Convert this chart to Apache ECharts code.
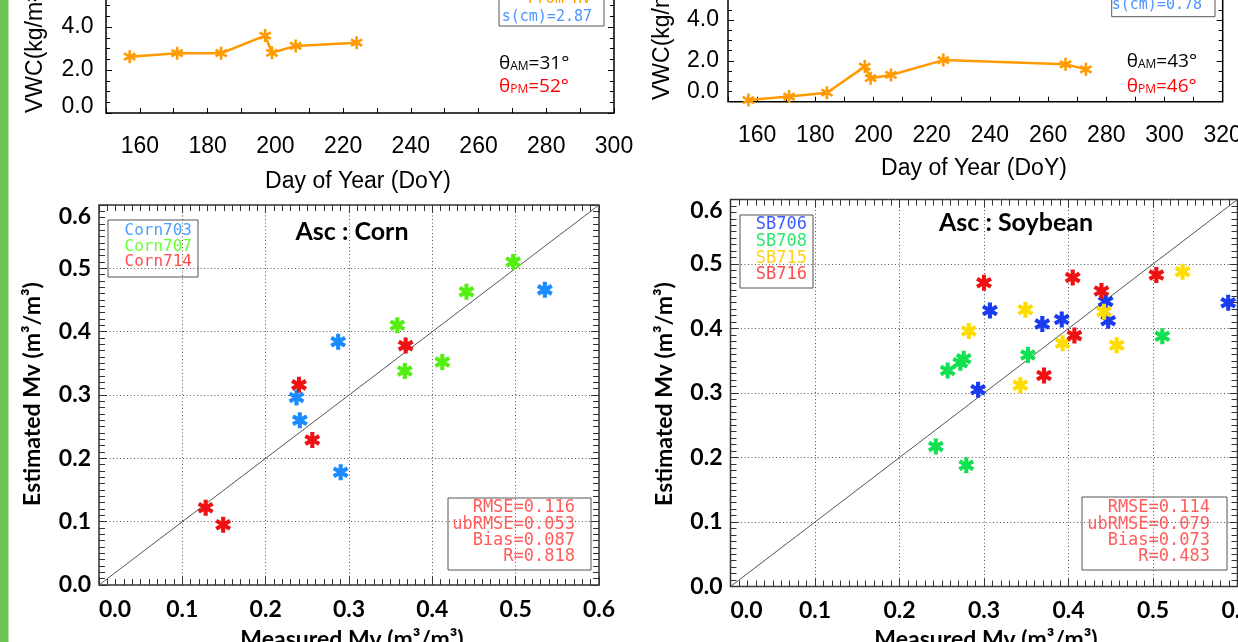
<!DOCTYPE html>
<html><head><meta charset="utf-8">
<script src="https://cdn.jsdelivr.net/npm/echarts@6/dist/echarts.min.js"></script>
<style>html,body{margin:0;padding:0;background:#fff}#c{width:1238px;height:642px}</style>
</head><body><div id="c"></div>
<script>
// ---------------- data ----------------
const cornDoY = [157, 171, 184, 197, 199, 206, 224];
const cornVWC = [2.62, 2.78, 2.78, 3.60, 2.80, 3.12, 3.27];
const soyDoY  = [157, 171, 184, 197, 199, 206, 224, 266, 273];
const soyVWC  = [0.08, 0.25, 0.44, 1.72, 1.15, 1.31, 2.04, 1.83, 1.59];
const cornDoYRange = [150, 300];
const soyDoYRange  = [150, 320];
const vwcRange = [0, 8];
const mvRange = [0, 0.6];

const corn703Meas = [0.535, 0.287, 0.237, 0.241, 0.290];
const corn703Est  = [0.466, 0.384, 0.296, 0.260, 0.178];
const corn707Meas = [0.497, 0.441, 0.358, 0.367, 0.412];
const corn707Est  = [0.510, 0.463, 0.410, 0.338, 0.352];
const corn714Meas = [0.368, 0.240, 0.256, 0.128, 0.149];
const corn714Est  = [0.378, 0.316, 0.229, 0.122, 0.095];

const sb706Meas = [0.307, 0.293, 0.369, 0.392, 0.444, 0.447, 0.589];
const sb706Est  = [0.428, 0.305, 0.407, 0.414, 0.442, 0.412, 0.440];
const sb708Meas = [0.257, 0.272, 0.276, 0.352, 0.511, 0.243, 0.279];
const sb708Est  = [0.335, 0.347, 0.353, 0.359, 0.388, 0.217, 0.188];
const sb715Meas = [0.282, 0.349, 0.343, 0.393, 0.442, 0.457, 0.535];
const sb715Est  = [0.396, 0.429, 0.312, 0.377, 0.426, 0.374, 0.488];
const sb716Meas = [0.300, 0.405, 0.439, 0.407, 0.371, 0.504];
const sb716Est  = [0.471, 0.479, 0.458, 0.389, 0.327, 0.483];

const cornStats = ['RMSE=0.116', 'ubRMSE=0.053', 'Bias=0.087', 'R=0.818'];
const soyStats  = ['RMSE=0.114', 'ubRMSE=0.079', 'Bias=0.073', 'R=0.483'];
// ---------------------------------------------------------------

function zip(a, b) { return a.map((v, i) => [v, b[i]]); }
function asteriskPath(L, h) {
  let d = '';
  [90, 30, -30].forEach(a => {
    const r = a * Math.PI / 180, dx = Math.cos(r), dy = Math.sin(r), nx = -dy, ny = dx;
    const p = [[-L*dx - h*nx, -L*dy - h*ny], [L*dx - h*nx, L*dy - h*ny], [L*dx + h*nx, L*dy + h*ny], [-L*dx + h*nx, -L*dy + h*ny]];
    d += 'M' + p.map(q => q[0].toFixed(3) + ',' + q[1].toFixed(3)).join('L') + 'Z';
  });
  return 'path://' + d;
}
const STAR = asteriskPath(7, 1.8);
const STAR_T = asteriskPath(7, 1.4);
const SANS = 'Liberation Sans', BOLD = 'Lato', MONO = 'DejaVu Sans Mono';

const chart = echarts.init(document.getElementById('c'), null, {renderer: 'canvas', width: 1238, height: 642});

const gridBase = {show: true, backgroundColor: 'transparent', borderWidth: 1.5, containLabel: false, outerBoundsMode: 'none'};
const grid = [
  Object.assign({left: 106, top: -59, width: 508, height: 172, borderColor: '#000'}, gridBase),
  Object.assign({left: 728, top: -61.5, width: 494.7, height: 163.2, borderColor: '#000'}, gridBase),
  Object.assign({left: 99, top: 205, width: 500, height: 380, borderColor: '#333'}, gridBase),
  Object.assign({left: 730.5, top: 199.5, width: 507, height: 387, borderColor: '#333'}, gridBase)
];
const noLine = {show: false, onZero: false};

function topX(gi, range, margin) {
  return {gridIndex: gi, type: 'value', min: range[0], max: range[1], interval: 10, position: 'bottom',
    axisLine: noLine, splitLine: {show: false},
    axisTick: {show: true, inside: true, length: 5, lineStyle: {color: '#000', width: 1}},
    axisLabel: {margin: margin, fontSize: 23, fontFamily: SANS, color: '#000',
      formatter: v => (Math.round(v) % 20 === 0 ? String(Math.round(v)) : '')}};
}
function topY(gi, range, margin, zeroPad) {
  const tick = {show: true, inside: true, length: 6, lineStyle: {color: '#000', width: 1}};
  const minor = {show: true, splitNumber: 4, length: 4, lineStyle: {color: '#000', width: 1}};
  return [
    {gridIndex: gi, type: 'value', min: range[0], max: range[1], interval: 2, position: 'left',
      axisLine: noLine, splitLine: {show: false}, axisTick: tick, minorTick: minor,
      axisLabel: {margin: margin, fontSize: 23, fontFamily: SANS, color: '#000',
        formatter: v => (Math.abs(v) < 1e-9 ? '{z|0.0}' : v.toFixed(1)),
        rich: {z: {fontSize: 23, fontFamily: SANS, color: '#000', padding: [0, 0, zeroPad, 0]}}}},
    {gridIndex: gi, type: 'value', min: range[0], max: range[1], interval: 2, position: 'right',
      axisLine: noLine, splitLine: {show: false}, axisTick: tick, minorTick: minor, axisLabel: {show: false}}
  ];
}
function scTick() { return {show: true, inside: true, length: 8, lineStyle: {color: '#333', width: 1}}; }
function scMinor() { return {show: true, splitNumber: 10, length: 6, lineStyle: {color: '#333', width: 1}}; }
const dotted = {show: true, lineStyle: {type: [1, 2.5], color: '#555', width: 1}};
function scX(gi) {
  return [
    {gridIndex: gi, type: 'value', min: mvRange[0], max: mvRange[1], interval: 0.1, position: 'bottom',
      axisLine: noLine, axisTick: scTick(), minorTick: scMinor(), splitLine: dotted,
      axisLabel: {margin: 13, fontSize: 23, fontWeight: 'bold', fontFamily: BOLD, color: '#000',
        formatter: v => v.toFixed(1), alignMinLabel: 'left'}},
    {gridIndex: gi, type: 'value', min: mvRange[0], max: mvRange[1], interval: 0.1, position: 'top',
      axisLine: noLine, axisTick: scTick(), minorTick: scMinor(), splitLine: {show: false}, axisLabel: {show: false}}
  ];
}
function scY(gi) {
  return [
    {gridIndex: gi, type: 'value', min: mvRange[0], max: mvRange[1], interval: 0.1, position: 'left',
      axisLine: noLine, axisTick: scTick(), minorTick: scMinor(), splitLine: dotted,
      axisLabel: {margin: 8, fontSize: 23, fontWeight: 'bold', fontFamily: BOLD, color: '#000',
        formatter: v => v.toFixed(1), verticalAlignMaxLabel: 'top'}},
    {gridIndex: gi, type: 'value', min: mvRange[0], max: mvRange[1], interval: 0.1, position: 'right',
      axisLine: noLine, axisTick: scTick(), minorTick: scMinor(), splitLine: {show: false}, axisLabel: {show: false}}
  ];
}

const xAxis = [topX(0, cornDoYRange, 22), topX(1, soyDoYRange, 22)].concat(scX(2), scX(3));
const yAxis = [].concat(topY(0, vwcRange, 12.5, 12), topY(1, vwcRange, 9, 21), scY(2), scY(3));

function vwcLine(xi, yi, xs, ys) {
  return {type: 'line', xAxisIndex: xi, yAxisIndex: yi, data: zip(xs, ys), symbol: STAR_T, symbolSize: 13,
    symbolKeepAspect: true, showAllSymbol: true, lineStyle: {color: '#ff9a00', width: 2.5}, itemStyle: {color: '#ff9a00'}, z: 5};
}
function pts(xi, yi, xs, ys, color) {
  return {type: 'scatter', xAxisIndex: xi, yAxisIndex: yi, data: zip(xs, ys), symbol: STAR, symbolSize: 16,
    symbolKeepAspect: true, itemStyle: {color: color, opacity: 1}, z: 5};
}
function oneToOne(xi, yi) {
  return {type: 'line', xAxisIndex: xi, yAxisIndex: yi, data: [[mvRange[0], mvRange[0]], [mvRange[1], mvRange[1]]],
    symbol: 'none', lineStyle: {color: '#555', width: 1}, z: 3, silent: true};
}

const series = [
  vwcLine(0, 0, cornDoY, cornVWC),
  vwcLine(1, 2, soyDoY, soyVWC),
  oneToOne(2, 4),
  pts(2, 4, corn703Meas, corn703Est, '#1a8cff'),
  pts(2, 4, corn707Meas, corn707Est, '#55ee11'),
  pts(2, 4, corn714Meas, corn714Est, '#ee1111'),
  oneToOne(4, 6),
  pts(4, 6, sb706Meas, sb706Est, '#1a3cf0'),
  pts(4, 6, sb708Meas, sb708Est, '#11e050'),
  pts(4, 6, sb715Meas, sb715Est, '#ffdc00'),
  pts(4, 6, sb716Meas, sb716Est, '#ee1111')
];

// ---------------- text & frames ----------------
function txt(x, y, text, font, fill, align, va, extra) {
  return Object.assign({type: 'text', x: x, y: y, z: 100, silent: true,
    style: {text: text, font: font, fill: fill, align: align, verticalAlign: va, textAlign: align, textVerticalAlign: va}}, extra || {});
}
function box(x, y, w, h) {
  return {type: 'rect', z: 99, silent: true, shape: {x: x, y: y, width: w, height: h}, style: {fill: 'none', stroke: '#555', lineWidth: 1}};
}
function theta(x, y, sub, val, color) {
  const m = {fontSize: 19, fontFamily: 'Open Sans', fill: color, verticalAlign: 'bottom', lineHeight: 22};
  const s = {fontSize: 12, fontFamily: 'Open Sans', fill: color, verticalAlign: 'bottom', lineHeight: 8};
  return {type: 'text', x: x, y: y, z: 100, silent: true,
    style: {text: '{m|θ}{s|' + sub + '}{m|=' + val + '°}', rich: {m: m, s: s}, align: 'left', verticalAlign: 'middle', textAlign: 'left', textVerticalAlign: 'middle'}};
}
const G = [];
G.push({type: 'rect', z: 101, silent: true, shape: {x: 0, y: 0, width: 8.5, height: 642}, style: {fill: '#6cc552'}});
// top charts
G.push(txt(36, 113, 'VWC(kg/m²)', '23px ' + SANS, '#000', 'left', 'middle', {rotation: Math.PI / 2}));
G.push(txt(662.5, 100, 'VWC(kg/m²)', '23px ' + SANS, '#000', 'left', 'middle', {rotation: Math.PI / 2}));
G.push(txt(358, 181.7, 'Day of Year (DoY)', '23px ' + SANS, '#000', 'center', 'middle'));
G.push(txt(974, 169, 'Day of Year (DoY)', '23px ' + SANS, '#000', 'center', 'middle'));
G.push(box(499, -20, 105, 46));
G.push(txt(591, -1, 'From Hv', '15px ' + MONO, '#ff9900', 'right', 'middle'));
G.push(txt(592, 16.7, 's(cm)=2.87', '15px ' + MONO, '#4d94ff', 'right', 'middle'));
G.push(box(1111.7, -30, 103.3, 46.7));
G.push(txt(1201, -12, 'From Hv', '15px ' + MONO, '#ff9900', 'right', 'middle'));
G.push(txt(1202, 5, 's(cm)=0.78', '15px ' + MONO, '#4d94ff', 'right', 'middle'));
G.push(theta(499, 61.7, 'AM', '31', '#000'));
G.push(theta(499, 85, 'PM', '52', '#ff0000'));
G.push(theta(1126.7, 60, 'AM', '43', '#000'));
G.push(theta(1126.7, 85, 'PM', '46', '#ff0000'));
// scatter plots
G.push(txt(352, 231.7, 'Asc : Corn', 'bold 25px ' + BOLD, '#000', 'center', 'middle'));
G.push(txt(1016, 223, 'Asc : Soybean', 'bold 25px ' + BOLD, '#000', 'center', 'middle'));
G.push(txt(32.6, 394, 'Estimated Mv (m³/m³)', 'bold 23px ' + BOLD, '#000', 'center', 'middle', {rotation: Math.PI / 2}));
G.push(txt(665, 394, 'Estimated Mv (m³/m³)', 'bold 23px ' + BOLD, '#000', 'center', 'middle', {rotation: Math.PI / 2}));
G.push(txt(352, 628, 'Measured Mv (m³/m³)', 'bold 23px ' + BOLD, '#000', 'center', 'top'));
G.push(txt(986, 628, 'Measured Mv (m³/m³)', 'bold 23px ' + BOLD, '#000', 'center', 'top'));
// legends
G.push(box(108, 220, 90, 57));
[['Corn703', '#4aa0ff', 231], ['Corn707', '#66ff33', 246.5], ['Corn714', '#ff4d4d', 262]].forEach(r =>
  G.push(txt(192, r[2], r[0], '16px ' + MONO, r[1], 'right', 'middle')));
G.push(box(740, 215, 73, 73));
[['SB706', '#3d5cff', 224.3], ['SB708', '#2ee66e', 241.7], ['SB715', '#ffd21a', 258.3], ['SB716', '#ff4d4d', 275]].forEach(r =>
  G.push(txt(807, r[2], r[0], '17px ' + MONO, r[1], 'right', 'middle')));
// stats
G.push(box(448, 498, 143, 72));
[508, 524.5, 541, 557].forEach((y, i) => G.push(txt(575, y, cornStats[i], '17px ' + MONO, '#ff5c5c', 'right', 'middle')));
G.push(box(1082, 497, 145, 73));
[507.7, 524.3, 540.5, 556.7].forEach((y, i) => G.push(txt(1210, y, soyStats[i], '17px ' + MONO, '#ff5c5c', 'right', 'middle')));

chart.setOption({
  animation: false,
  backgroundColor: '#fff',
  grid: grid,
  xAxis: xAxis,
  yAxis: yAxis,
  series: series,
  graphic: {elements: G}
});
</script>
</body></html>
